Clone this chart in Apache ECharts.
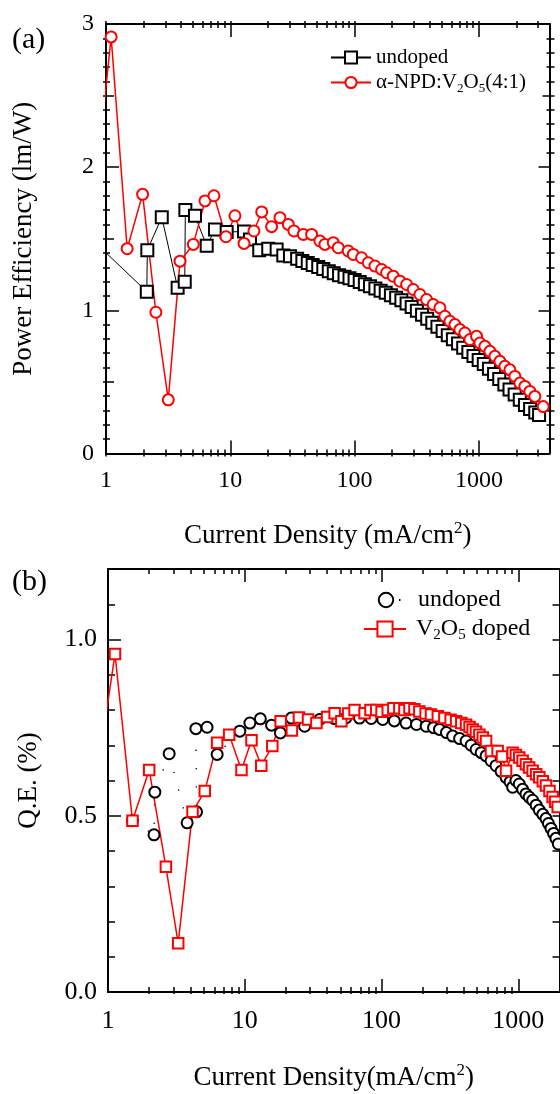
<!DOCTYPE html>
<html><head><meta charset="utf-8">
<script src="https://cdn.jsdelivr.net/npm/echarts@6/dist/echarts.min.js"></script>
<style>html,body{margin:0;padding:0;background:#fff}#c{width:560px;height:1094px}</style>
</head><body><div id="c"></div>
<script>
// ---------- data ----------
// Panel (a): power efficiency (lm/W) vs current density (mA/cm2)
const peUndoped = [[0.95,1.42],[2.13,1.13],[2.15,1.42],[2.81,1.65],[3.77,1.157],[4.30,1.20],[4.35,1.70],[5.2,1.66],[6.46,1.45],[7.53,1.565],[9.35,1.547],[12.9,1.55],[14.4,1.495],[17.1,1.42],[20.2,1.43],[23.6,1.425],[26.7,1.383],[30.2,1.378],[34.5,1.36],[38,1.345],[42,1.331],[46,1.317],[51,1.302],[56,1.288],[62,1.272],[68,1.258],[75,1.245],[83,1.234],[91,1.223],[100,1.211],[110,1.197],[121,1.182],[133,1.168],[147,1.152],[162,1.137],[178,1.123],[196,1.105],[216,1.088],[238,1.07],[262,1.047],[288,1.022],[317,0.996],[349,0.969],[384,0.94],[422,0.912],[464,0.884],[511,0.855],[562,0.826],[618,0.798],[680,0.768],[748,0.738],[823,0.709],[905,0.681],[996,0.652],[1095,0.624],[1205,0.592],[1325,0.555],[1458,0.519],[1604,0.482],[1764,0.447],[1940,0.411],[2134,0.375],[2348,0.339],[2583,0.31],[2841,0.285],[3050,0.268]];
const peDoped = [[0.97,2.45],[1.10,2.91],[1.48,1.43],[1.97,1.81],[2.52,0.986],[3.17,0.374],[3.94,1.343],[5.04,1.46],[6.26,1.764],[7.39,1.80],[9.23,1.514],[10.9,1.66],[12.9,1.467],[15.5,1.554],[17.9,1.687],[21.5,1.584],[25.1,1.647],[29.3,1.60],[32.5,1.554],[38.7,1.53],[45.1,1.53],[52.6,1.484],[57.7,1.46],[67.4,1.472],[73.9,1.437],[88.9,1.414],[97.6,1.39],[113.9,1.367],[128.8,1.332],[145.8,1.309],[164.9,1.285],[180.9,1.262],[204.6,1.238],[231.6,1.203],[262,1.18],[296.5,1.145],[335.3,1.11],[379.4,1.075],[429.2,1.04],[485.8,1.017],[533,0.958],[584.6,0.923],[641.2,0.90],[703.6,0.865],[771.8,0.841],[846.5,0.795],[958,0.818],[1019,0.771],[1118,0.748],[1226,0.713],[1345,0.678],[1476,0.643],[1619,0.608],[1776,0.584],[1948,0.538],[2137,0.491],[2344,0.468],[2572,0.433],[2821,0.398],[3293,0.327]];
// Panel (b): quantum efficiency (%) vs current density (mA/cm2)
const qeUndoped = [[1.51,0.486],[2.17,0.446],[2.2,0.567],[2.8,0.676],[3.79,0.48],[4.44,0.511],[4.39,0.747],[5.3,0.751],[6.28,0.674],[9.2,0.74],[10.9,0.763],[13,0.775],[15.7,0.757],[18.2,0.735],[21.9,0.777],[27.4,0.754],[35.3,0.773],[45,0.776],[55,0.778],[69,0.777],[84,0.776],[102,0.773],[124,0.769],[151,0.763],[180,0.759],[212,0.754],[240,0.75],[265,0.745],[298,0.736],[331,0.726],[372,0.719],[415,0.712],[452,0.70],[491,0.688],[535,0.679],[581,0.67],[632,0.656],[687,0.642],[748,0.626],[813,0.609],[870,0.596],[909,0.581],[960,0.60],[1016,0.59],[1075,0.575],[1137,0.562],[1200,0.553],[1273,0.544],[1350,0.53],[1423,0.516],[1510,0.504],[1593,0.492],[1660,0.478],[1733,0.464],[1810,0.45],[1883,0.436],[1960,0.42]];
const qeDoped = [[0.97,0.79],[1.125,0.959],[1.51,0.486],[2.0,0.63],[2.65,0.355],[3.26,0.138],[4.15,0.511],[5.1,0.57],[6.28,0.707],[7.69,0.73],[9.46,0.63],[11.2,0.714],[13.2,0.642],[15.9,0.698],[18.3,0.768],[22.1,0.742],[24.9,0.779],[29,0.773],[33.4,0.763],[40,0.78],[45.4,0.791],[50.8,0.768],[57,0.79],[63.5,0.80],[75.2,0.791],[83,0.80],[91.5,0.80],[100,0.795],[111,0.80],[122,0.805],[135,0.805],[147,0.80],[160,0.805],[174,0.802],[189,0.796],[210,0.79],[230,0.787],[258,0.782],[288,0.777],[320,0.772],[351,0.768],[383,0.763],[415,0.758],[440,0.752],[464,0.745],[490,0.738],[519,0.73],[550,0.722],[581,0.712],[631,0.684],[706,0.684],[760,0.668],[813,0.628],[909,0.679],[960,0.672],[1016,0.665],[1075,0.656],[1137,0.646],[1200,0.637],[1273,0.628],[1350,0.618],[1423,0.609],[1510,0.598],[1593,0.586],[1690,0.57],[1782,0.553],[1860,0.54],[1940,0.525],[2030,0.51]];

// tick labels
const xTickLabels = [1, 10, 100, 1000];
const peTickLabels = [0, 1, 2, 3];
const qeTickLabels = [0.0, 0.5, 1.0];
// tick marks
const xMinorA = [2,3,4,5,6,7,8,9,20,30,40,50,60,70,80,90,200,300,400,500,600,700,800,900,2000,3000];
const xMinorB = [2,3,4,5,6,7,8,9,20,30,40,50,60,70,80,90,200,300,400,500,600,700,800,900];
const peMedium = [0.5, 1.5, 2.5];
const peMinor = [0.1,0.2,0.3,0.4,0.6,0.7,0.8,0.9,1.1,1.2,1.3,1.4,1.6,1.7,1.8,1.9,2.1,2.2,2.3,2.4,2.6,2.7,2.8,2.9];
const qeMinor = [0.1,0.2,0.3,0.4,0.6,0.7,0.8,0.9,1.1];

const FONT = '"Liberation Serif","Times New Roman",serif';
const BLACK = '#000', RED = '#ff0000';

function tickAxis(base, vals, inside, len, extra) {
  return Object.assign({}, base, {
    axisLine: {show: false, onZero: false},
    axisLabel: {show: false},
    splitLine: {show: false},
    axisTick: {show: true, inside: inside, length: len, customValues: vals, lineStyle: {color: BLACK, width: 1.5}}
  }, extra || {});
}
const frameLine = {show: true, onZero: false, lineStyle: {color: BLACK, width: 2}};

const xA = {type: 'log', logBase: 10, gridIndex: 0, min: 1, max: 3700};
const xB = {type: 'log', logBase: 10, gridIndex: 1, min: 1, max: 2000};
const yA = {type: 'value', gridIndex: 0, min: 0, max: 3};
const yB = {type: 'value', gridIndex: 1, min: 0, max: 1.2};

const titleStyle = (size) => ({
  fontFamily: FONT, fontSize: size, color: BLACK, lineHeight: size + 4,
  rich: {s: {fontFamily: FONT, fontSize: Math.round(size * 0.62), color: BLACK, verticalAlign: 'top', lineHeight: 16}}
});

const xAxes = [
  // panel a
  tickAxis(Object.assign({position: 'bottom'}, xA), xTickLabels, true, 13, {
    axisLine: frameLine,
    axisLabel: {show: true, customValues: xTickLabels, margin: 15, fontFamily: FONT, fontSize: 24, color: BLACK, formatter: v => String(Math.round(v))},
    name: 'Current Density (mA/cm{s|2})', nameLocation: 'middle', nameGap: 67, nameTextStyle: titleStyle(27)
  }),
  tickAxis(Object.assign({position: 'bottom'}, xA), xMinorA, true, 4),
  tickAxis(Object.assign({position: 'bottom'}, xA), xMinorA.concat(xTickLabels), false, 3),
  tickAxis(Object.assign({position: 'top'}, xA), xTickLabels, true, 13, {axisLine: frameLine}),
  tickAxis(Object.assign({position: 'top'}, xA), xMinorA, true, 4),
  tickAxis(Object.assign({position: 'top'}, xA), xMinorA.concat(xTickLabels), false, 3),
  // panel b
  tickAxis(Object.assign({position: 'bottom'}, xB), xTickLabels, true, 13, {
    axisLine: frameLine,
    axisLabel: {show: true, customValues: xTickLabels, margin: 16, fontFamily: FONT, fontSize: 26, color: BLACK, formatter: v => String(Math.round(v))},
    name: 'Current Density(mA/cm{s|2})', nameLocation: 'middle', nameGap: 70, nameTextStyle: titleStyle(27)
  }),
  tickAxis(Object.assign({position: 'bottom'}, xB), xMinorB, true, 5),
  tickAxis(Object.assign({position: 'bottom'}, xB), xMinorB, false, 2),
  tickAxis(Object.assign({position: 'top'}, xB), xTickLabels, true, 13, {axisLine: frameLine}),
  tickAxis(Object.assign({position: 'top'}, xB), xMinorB, true, 5)
];

const yAxes = [
  // panel a
  tickAxis(Object.assign({position: 'left'}, yA), peTickLabels, true, 13, {
    axisLine: frameLine,
    axisLabel: {show: true, customValues: peTickLabels, margin: 12, fontFamily: FONT, fontSize: 24, color: BLACK, formatter: v => String(v)},
    name: 'Power Efficiency (lm/W)', nameLocation: 'middle', nameGap: 69,
    nameTextStyle: {fontFamily: FONT, fontSize: 27, color: BLACK}
  }),
  tickAxis(Object.assign({position: 'left'}, yA), peMedium, true, 8),
  tickAxis(Object.assign({position: 'left'}, yA), peMinor, true, 4),
  tickAxis(Object.assign({position: 'left'}, yA), peMinor.concat(peMedium), false, 3),
  tickAxis(Object.assign({position: 'right'}, yA), peTickLabels, true, 11, {axisLine: frameLine}),
  tickAxis(Object.assign({position: 'right'}, yA), peMedium, true, 7),
  tickAxis(Object.assign({position: 'right'}, yA), peMinor, true, 3),
  tickAxis(Object.assign({position: 'right'}, yA), peMinor.concat(peMedium), false, 5),
  // panel b
  tickAxis(Object.assign({position: 'left'}, yB), qeTickLabels, true, 13, {
    axisLine: frameLine,
    axisLabel: {show: true, customValues: qeTickLabels, margin: 11, fontFamily: FONT, fontSize: 26, color: BLACK, formatter: v => v.toFixed(1)},
    name: 'Q.E. (%)', nameLocation: 'middle', nameGap: 66,
    nameTextStyle: {fontFamily: FONT, fontSize: 27, color: BLACK}
  }),
  tickAxis(Object.assign({position: 'left'}, yB), qeMinor, true, 7),
  tickAxis(Object.assign({position: 'right'}, yB), qeMinor.concat(qeTickLabels), true, 7, {axisLine: frameLine})
];

const legendText = (size, lh, firstPad) => ({
  fontFamily: FONT, fontSize: size, color: BLACK,
  rich: {
    f: {fontFamily: FONT, fontSize: size, color: BLACK, lineHeight: lh, padding: [0, 0, 0, firstPad]},
    n: {fontFamily: FONT, fontSize: size, color: BLACK, lineHeight: lh},
    s: {fontFamily: FONT, fontSize: Math.round(size * 0.62), color: BLACK, lineHeight: Math.round(lh * 0.5), verticalAlign: 'bottom'}
  }
});

const option = {
  animation: false,
  backgroundColor: '#fff',
  grid: [
    {left: 106, top: 24, right: 10.5, bottom: 640.6, containLabel: false},
    {left: 108, top: 569, right: 0.5, bottom: 96.5, containLabel: false}
  ],
  xAxis: xAxes,
  yAxis: yAxes,
  legend: [
    {left: 330, top: 47, padding: 0, itemWidth: 40, itemHeight: 15, selectedMode: false,
     data: ['PE undoped'], formatter: () => '{f|undoped}', textStyle: legendText(21, 26, 0)},
    {left: 330, top: 72, padding: 0, itemWidth: 40, itemHeight: 14, selectedMode: false,
     data: ['PE doped'], formatter: () => '{f|α-NPD:V}{s|2}{n|O}{s|5}{n|(4:1)}', textStyle: legendText(21, 26, 0)},
    {left: 367, top: 588, padding: 0, itemWidth: 36, itemHeight: 18, selectedMode: false,
     lineStyle: {type: [1.5, 40], dashOffset: 10.5},
     data: ['QE undoped'], formatter: () => '{f|undoped}', textStyle: legendText(24, 28, 9)},
    {left: 363, top: 617, padding: 0, itemWidth: 42, itemHeight: 19, selectedMode: false,
     data: ['QE doped'], formatter: () => '{f|V}{s|2}{n|O}{s|5}{n| doped}', textStyle: legendText(24, 28, 5)}
  ],
  graphic: [
    {type: 'text', x: 12, y: 40, style: {text: '(a)', fontFamily: FONT, fontSize: 30, fill: BLACK, verticalAlign: 'middle'}},
    {type: 'text', x: 12, y: 582, style: {text: '(b)', fontFamily: FONT, fontSize: 30, fill: BLACK, verticalAlign: 'middle'}}
  ],
  series: [
    {name: 'PE undoped', type: 'line', xAxisIndex: 0, yAxisIndex: 0, data: peUndoped, showAllSymbol: true,
     symbol: 'emptyRect', symbolSize: 12, lineStyle: {color: BLACK, width: 1}, itemStyle: {color: BLACK, borderWidth: 1.8}},
    {name: 'PE doped', type: 'line', xAxisIndex: 0, yAxisIndex: 0, data: peDoped, showAllSymbol: true,
     symbol: 'emptyCircle', symbolSize: 11, lineStyle: {color: RED, width: 1.5}, itemStyle: {color: RED, borderWidth: 1.5}},
    {name: 'QE undoped', type: 'line', xAxisIndex: 6, yAxisIndex: 8, data: qeUndoped, showAllSymbol: true,
     symbol: 'emptyCircle', symbolSize: 11, lineStyle: {color: BLACK, width: 1.3, type: [1.3, 17]}, itemStyle: {color: BLACK, borderWidth: 1.3}},
    {name: 'QE doped', type: 'line', xAxisIndex: 6, yAxisIndex: 8, data: qeDoped, showAllSymbol: true,
     symbol: 'emptyRect', symbolSize: 10.5, lineStyle: {color: RED, width: 1.5}, itemStyle: {color: RED, borderWidth: 1.5}}
  ]
};

const chart = echarts.init(document.getElementById('c'), null, {renderer: 'canvas'});
chart.setOption(option);
</script></body></html>
